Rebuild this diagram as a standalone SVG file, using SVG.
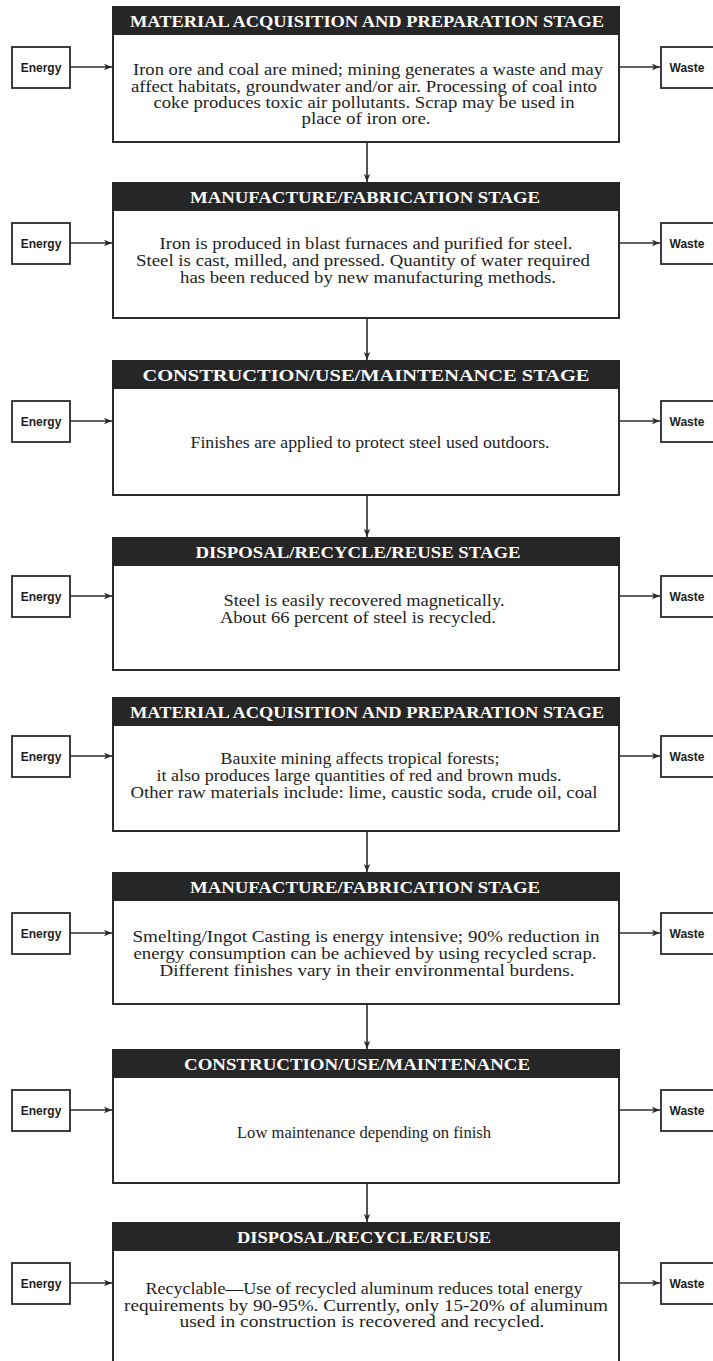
<svg xmlns="http://www.w3.org/2000/svg" width="713" height="1361" viewBox="0 0 713 1361">
<style>
.bg{fill:#ffffff}
.body{fill:#ffffff;stroke:#2b2b2b;stroke-width:2}
.hdr{fill:#262626;stroke:#262626;stroke-width:2}
.ht{fill:#ffffff;font-family:"Liberation Serif","Times New Roman",serif;font-weight:bold;font-size:17px;text-anchor:middle}
.bt{fill:#1e1e1e;font-family:"Liberation Serif","Times New Roman",serif;font-size:16px;text-anchor:middle}
.side{fill:#ffffff;stroke:#2b2b2b;stroke-width:1.8}
.st{fill:#1e1e1e;font-family:"Liberation Sans","Arial Narrow",Arial,sans-serif;font-weight:bold;font-size:12px;text-anchor:middle}
.con{fill:none;stroke:#2b2b2b;stroke-width:1.6;marker-end:url(#ah)}
</style>
<defs>
<marker id="ah" viewBox="0 0 10 10" refX="10" refY="5" markerWidth="8" markerHeight="8" markerUnits="userSpaceOnUse" orient="auto">
<path d="M0,1 L10,5 L0,9 L2.5,5 Z" fill="#2b2b2b"/>
</marker>
</defs>
<rect class="bg" x="0" y="0" width="713" height="1361"/>

<g id="connectors">
<path class="con" d="M70,67 H112"/><path class="con" d="M619,67 H660"/>
<path class="con" d="M367,142 V182"/>
<path class="con" d="M70,243 H112"/><path class="con" d="M619,243 H660"/>
<path class="con" d="M367,318 V360"/>
<path class="con" d="M70,421 H112"/><path class="con" d="M619,421 H660"/>
<path class="con" d="M367,495 V537"/>
<path class="con" d="M70,596 H112"/><path class="con" d="M619,596 H660"/>
<path class="con" d="M70,756 H112"/><path class="con" d="M619,756 H660"/>
<path class="con" d="M367,831 V872"/>
<path class="con" d="M70,933 H112"/><path class="con" d="M619,933 H660"/>
<path class="con" d="M367,1004 V1049"/>
<path class="con" d="M70,1110 H112"/><path class="con" d="M619,1110 H660"/>
<path class="con" d="M367,1183 V1222"/>
<path class="con" d="M70,1283 H112"/><path class="con" d="M619,1283 H660"/>
</g>

<g id="stage1">
<rect class="body" x="113" y="7" width="506" height="135"/>
<rect class="hdr" x="113" y="7" width="506" height="27"/>
<text class="ht" x="367" y="27" textLength="474" lengthAdjust="spacingAndGlyphs">MATERIAL ACQUISITION AND PREPARATION STAGE</text>
<text class="bt" x="368" y="75" textLength="470" lengthAdjust="spacingAndGlyphs">Iron ore and coal are mined; mining generates a waste and may</text>
<text class="bt" x="364" y="92" textLength="466" lengthAdjust="spacingAndGlyphs">affect habitats, groundwater and/or air.  Processing of coal into</text>
<text class="bt" x="364" y="108" textLength="421" lengthAdjust="spacingAndGlyphs">coke produces toxic air pollutants.  Scrap may be used in</text>
<text class="bt" x="366" y="124" textLength="129" lengthAdjust="spacingAndGlyphs">place of iron ore.</text>
</g>
<g id="energy1"><rect class="side" x="12" y="47" width="58" height="41"/><text class="st" x="41" y="72">Energy</text></g>
<g id="waste1"><rect class="side" x="661" y="47" width="60" height="41"/><text class="st" x="687" y="72">Waste</text></g>

<g id="stage2">
<rect class="body" x="113" y="183" width="506" height="135"/>
<rect class="hdr" x="113" y="183" width="506" height="27"/>
<text class="ht" x="365" y="203" textLength="350" lengthAdjust="spacingAndGlyphs">MANUFACTURE/FABRICATION STAGE</text>
<text class="bt" x="366" y="249" textLength="413" lengthAdjust="spacingAndGlyphs">Iron is produced in blast furnaces and purified for steel.</text>
<text class="bt" x="363" y="266" textLength="454" lengthAdjust="spacingAndGlyphs">Steel is cast, milled, and pressed.  Quantity of water required</text>
<text class="bt" x="368" y="283" textLength="376" lengthAdjust="spacingAndGlyphs">has been reduced by new manufacturing methods.</text>
</g>
<g id="energy2"><rect class="side" x="12" y="223" width="58" height="41"/><text class="st" x="41" y="248">Energy</text></g>
<g id="waste2"><rect class="side" x="661" y="223" width="60" height="41"/><text class="st" x="687" y="248">Waste</text></g>

<g id="stage3">
<rect class="body" x="113" y="361" width="506" height="134"/>
<rect class="hdr" x="113" y="361" width="506" height="27"/>
<text class="ht" x="366" y="381" textLength="447" lengthAdjust="spacingAndGlyphs">CONSTRUCTION/USE/MAINTENANCE STAGE</text>
<text class="bt" x="370" y="448" textLength="359" lengthAdjust="spacingAndGlyphs">Finishes are applied to protect steel used outdoors.</text>
</g>
<g id="energy3"><rect class="side" x="12" y="401" width="58" height="41"/><text class="st" x="41" y="426">Energy</text></g>
<g id="waste3"><rect class="side" x="661" y="401" width="60" height="41"/><text class="st" x="687" y="426">Waste</text></g>

<g id="stage4">
<rect class="body" x="113" y="538" width="506" height="132"/>
<rect class="hdr" x="113" y="538" width="506" height="27"/>
<text class="ht" x="358" y="558" textLength="325" lengthAdjust="spacingAndGlyphs">DISPOSAL/RECYCLE/REUSE STAGE</text>
<text class="bt" x="364" y="606" textLength="281" lengthAdjust="spacingAndGlyphs">Steel is easily recovered magnetically.</text>
<text class="bt" x="358" y="623" textLength="276" lengthAdjust="spacingAndGlyphs">About 66 percent of steel is recycled.</text>
</g>
<g id="energy4"><rect class="side" x="12" y="576" width="58" height="41"/><text class="st" x="41" y="601">Energy</text></g>
<g id="waste4"><rect class="side" x="661" y="576" width="60" height="41"/><text class="st" x="687" y="601">Waste</text></g>

<g id="stage5">
<rect class="body" x="113" y="698" width="506" height="133"/>
<rect class="hdr" x="113" y="698" width="506" height="27"/>
<text class="ht" x="367" y="718" textLength="474" lengthAdjust="spacingAndGlyphs">MATERIAL ACQUISITION AND PREPARATION STAGE</text>
<text class="bt" x="360" y="764" textLength="279" lengthAdjust="spacingAndGlyphs">Bauxite mining affects tropical forests;</text>
<text class="bt" x="359" y="781" textLength="405" lengthAdjust="spacingAndGlyphs">it also produces large quantities of red and brown muds.</text>
<text class="bt" x="364" y="798" textLength="467" lengthAdjust="spacingAndGlyphs">Other raw materials include: lime, caustic soda, crude oil, coal</text>
</g>
<g id="energy5"><rect class="side" x="12" y="736" width="58" height="41"/><text class="st" x="41" y="761">Energy</text></g>
<g id="waste5"><rect class="side" x="661" y="736" width="60" height="41"/><text class="st" x="687" y="761">Waste</text></g>

<g id="stage6">
<rect class="body" x="113" y="873" width="506" height="131"/>
<rect class="hdr" x="113" y="873" width="506" height="27"/>
<text class="ht" x="365" y="893" textLength="350" lengthAdjust="spacingAndGlyphs">MANUFACTURE/FABRICATION STAGE</text>
<text class="bt" x="366" y="942" textLength="467" lengthAdjust="spacingAndGlyphs">Smelting/Ingot Casting is energy intensive; 90% reduction in</text>
<text class="bt" x="365" y="959" textLength="463" lengthAdjust="spacingAndGlyphs">energy consumption can be achieved by using recycled scrap.</text>
<text class="bt" x="367" y="976" textLength="415" lengthAdjust="spacingAndGlyphs">Different finishes vary in their environmental burdens.</text>
</g>
<g id="energy6"><rect class="side" x="12" y="913" width="58" height="41"/><text class="st" x="41" y="938">Energy</text></g>
<g id="waste6"><rect class="side" x="661" y="913" width="60" height="41"/><text class="st" x="687" y="938">Waste</text></g>

<g id="stage7">
<rect class="body" x="113" y="1050" width="506" height="133"/>
<rect class="hdr" x="113" y="1050" width="506" height="27"/>
<text class="ht" x="357" y="1070" textLength="346" lengthAdjust="spacingAndGlyphs">CONSTRUCTION/USE/MAINTENANCE</text>
<text class="bt" x="364" y="1138" textLength="254" lengthAdjust="spacingAndGlyphs">Low maintenance depending on finish</text>
</g>
<g id="energy7"><rect class="side" x="12" y="1090" width="58" height="41"/><text class="st" x="41" y="1115">Energy</text></g>
<g id="waste7"><rect class="side" x="661" y="1090" width="60" height="41"/><text class="st" x="687" y="1115">Waste</text></g>

<g id="stage8">
<rect class="body" x="113" y="1223" width="506" height="160"/>
<rect class="hdr" x="113" y="1223" width="506" height="27"/>
<text class="ht" x="364" y="1243" textLength="254" lengthAdjust="spacingAndGlyphs">DISPOSAL/RECYCLE/REUSE</text>
<text class="bt" x="364" y="1294" textLength="437" lengthAdjust="spacingAndGlyphs">Recyclable—Use of recycled aluminum reduces total energy</text>
<text class="bt" x="366" y="1311" textLength="484" lengthAdjust="spacingAndGlyphs">requirements by 90-95%.  Currently, only 15-20% of aluminum</text>
<text class="bt" x="362" y="1327" textLength="365" lengthAdjust="spacingAndGlyphs">used in construction is recovered and recycled.</text>
</g>
<g id="energy8"><rect class="side" x="12" y="1263" width="58" height="41"/><text class="st" x="41" y="1288">Energy</text></g>
<g id="waste8"><rect class="side" x="661" y="1263" width="60" height="41"/><text class="st" x="687" y="1288">Waste</text></g>
</svg>
